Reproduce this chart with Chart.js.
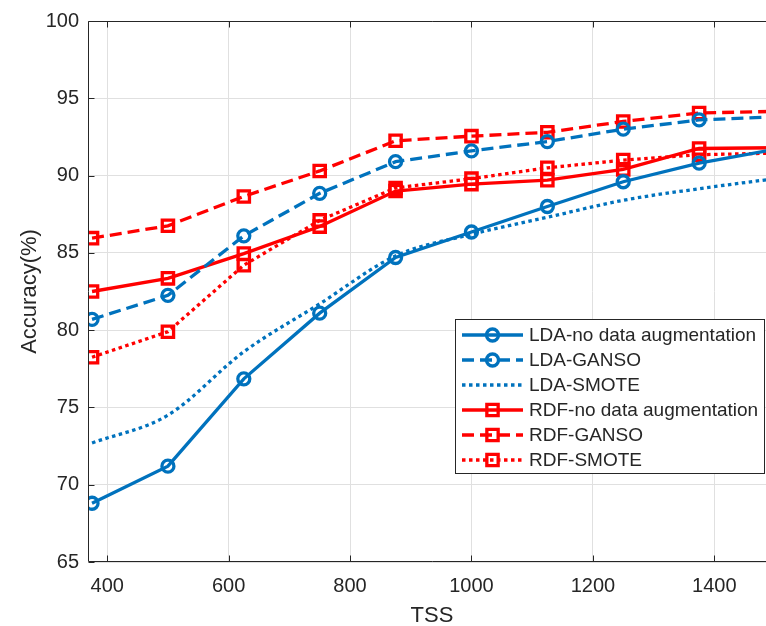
<!DOCTYPE html>
<html>
<head>
<meta charset="utf-8">
<script src="https://cdn.jsdelivr.net/npm/chart.js@4"></script>
<style>
  html, body { margin: 0; padding: 0; background: #fff; overflow: hidden; width: 766px; height: 626px; }
</style>
</head>
<body>
<canvas id="accChart" width="775" height="626"></canvas>
<script>
// values
const tss = [375, 500, 625, 750, 875, 1000, 1125, 1250, 1375, 1500];
const ldaNo = [68.8, 71.2, 76.85, 81.1, 84.7, 86.35, 88.0, 89.6, 90.8, 91.7];
const ldaGanso = [80.7, 82.25, 86.1, 88.85, 90.9, 91.6, 92.2, 93.0, 93.6, 93.8];
const ldaSmote = [72.7, 74.5, 78.6, 81.7, 84.8, 86.2, 87.3, 88.4, 89.15, 89.8];
const rdfNo = [82.5, 83.35, 84.95, 86.7, 89.0, 89.45, 89.7, 90.4, 91.75, 91.8];
const rdfGanso = [85.95, 86.75, 88.65, 90.3, 92.25, 92.55, 92.8, 93.5, 94.05, 94.15];
const rdfSmote = [78.25, 79.9, 84.2, 87.1, 89.2, 89.8, 90.5, 91.0, 91.35, 91.45];

const xTicks = [400, 600, 800, 1000, 1200, 1400];
const yTicks = [65, 70, 75, 80, 85, 90, 95, 100];

const BLUE = '#0072BD';
const RED = '#FF0000';
const TXT = '#262626';
const FONT = "'Liberation Sans', Arial, sans-serif";
const DASH = [12, 6];
const DOT = [3.5, 3.5];

const pts = vals => tss.map((x, i) => ({ x: x, y: vals[i] }));

function series(label, vals, color, dash, marker) {
    return {
        label: label,
        data: pts(vals),
        borderColor: color,
        borderWidth: 3.3,
        borderDash: dash,
        fill: false,
        tension: 0,
        pointStyle: marker || 'circle',
        pointRadius: marker ? (marker === 'rect' ? 8 : 6) : 0,
        pointBorderWidth: 3.3,
        pointBorderColor: color,
        pointBackgroundColor: 'rgba(0,0,0,0)'
    };
}

const datasets = [
    series('LDA-no data augmentation', ldaNo, BLUE, [], 'circle'),
    series('LDA-GANSO', ldaGanso, BLUE, DASH, 'circle'),
    Object.assign(series('LDA-SMOTE', ldaSmote, BLUE, DOT, null), { cubicInterpolationMode: 'monotone' }),
    series('RDF-no data augmentation', rdfNo, RED, [], 'rect'),
    series('RDF-GANSO', rdfGanso, RED, DASH, 'rect'),
    series('RDF-SMOTE', rdfSmote, RED, DOT, 'rect')
];

// the figure is cropped on the right: the plot runs to the canvas edge (past the window)
const stretchPlugin = {
    id: 'stretchPlugin',
    afterLayout(chart) {
        const a = chart.chartArea;
        const x = chart.scales.x;
        a.right = chart.width;
        a.width = a.right - a.left;
        x.right = chart.width;
        x.width = x.right - x.left;
        x.configure();
    }
};

// axes box, inward ticks and the legend, drawn like the matlab figure
const boxPlugin = {
    id: 'boxPlugin',
    afterDraw(chart) {
        const { ctx, chartArea: a, scales } = chart;
        const l = Math.round(a.left) - 0.5, t = Math.round(a.top) + 0.5, b = Math.round(a.bottom) - 0.5;
        ctx.save();
        ctx.strokeStyle = TXT;
        ctx.lineWidth = 1;
        ctx.setLineDash([]);
        ctx.beginPath();
        ctx.moveTo(a.right + 2, t); ctx.lineTo(l, t); ctx.lineTo(l, b); ctx.lineTo(a.right + 2, b);
        xTicks.forEach(v => {
            const px = Math.round(scales.x.getPixelForValue(v)) + 0.5;
            ctx.moveTo(px, b); ctx.lineTo(px, b - 6);
            ctx.moveTo(px, t); ctx.lineTo(px, t + 6);
        });
        yTicks.forEach(v => {
            const py = Math.round(scales.y.getPixelForValue(v)) + 0.5;
            ctx.moveTo(l, py); ctx.lineTo(l + 6, py);
        });
        ctx.stroke();

        // legend
        const bx = 455.5, by = 319.5, bw = 309, bh = 154;
        ctx.fillStyle = '#fff';
        ctx.fillRect(bx, by, bw, bh);
        ctx.strokeRect(bx, by, bw, bh);
        ctx.font = '19px ' + FONT;
        ctx.textBaseline = 'middle';
        ctx.textAlign = 'left';
        chart.data.datasets.forEach((ds, i) => {
            const yy = 335 + i * 25;
            ctx.strokeStyle = ds.borderColor;
            ctx.lineWidth = 3.3;
            ctx.setLineDash(ds.borderDash);
            ctx.beginPath();
            ctx.moveTo(462, yy); ctx.lineTo(523, yy);
            ctx.stroke();
            ctx.setLineDash([]);
            if (ds.pointRadius > 0) {
                ctx.beginPath();
                if (ds.pointStyle === 'rect') {
                    const s = ds.pointRadius * Math.SQRT1_2;
                    ctx.rect(492.5 - s, yy - s, 2 * s, 2 * s);
                } else {
                    ctx.arc(492.5, yy, ds.pointRadius, 0, Math.PI * 2);
                }
                ctx.stroke();
            }
            ctx.fillStyle = TXT;
            ctx.fillText(ds.label, 529, yy + 1);
        });
        ctx.restore();
    }
};

const ctx = document.getElementById('accChart').getContext('2d');
const accChart = new Chart(ctx, {
    type: 'line',
    data: { datasets: datasets },
    options: {
        responsive: false,
        animation: false,
        devicePixelRatio: 1,
        layout: { padding: { top: 21, left: 0, right: 0, bottom: 0 } },
        scales: {
            x: {
                type: 'linear',
                min: 370,
                max: 1500,
                afterBuildTicks: s => { s.ticks = xTicks.map(v => ({ value: v })); },
                afterFit: s => { s.height = 64; s.paddingLeft = 0; s.paddingRight = 0; },
                ticks: { color: TXT, font: { family: FONT, size: 20 }, padding: 12, callback: v => v },
                grid: { color: '#e0e0e0', drawTicks: false },
                border: { display: false },
                title: { display: true, text: 'TSS', color: TXT, font: { family: FONT, size: 22 }, padding: { top: 0, bottom: -3 } }
            },
            y: {
                min: 65,
                max: 100,
                afterBuildTicks: s => { s.ticks = yTicks.map(v => ({ value: v })); },
                afterFit: s => { s.width = 89; s.paddingTop = 0; s.paddingBottom = 0; },
                ticks: { color: TXT, font: { family: FONT, size: 20 }, padding: 10, callback: v => v },
                grid: { color: '#e0e0e0', drawTicks: false },
                border: { display: false },
                title: { display: true, text: 'Accuracy(%)', color: TXT, font: { family: FONT, size: 22 }, padding: { top: 17, bottom: 0 } }
            }
        },
        plugins: {
            legend: { display: false },
            tooltip: { enabled: false }
        }
    },
    plugins: [stretchPlugin, boxPlugin]
});
</script>
</body>
</html>
